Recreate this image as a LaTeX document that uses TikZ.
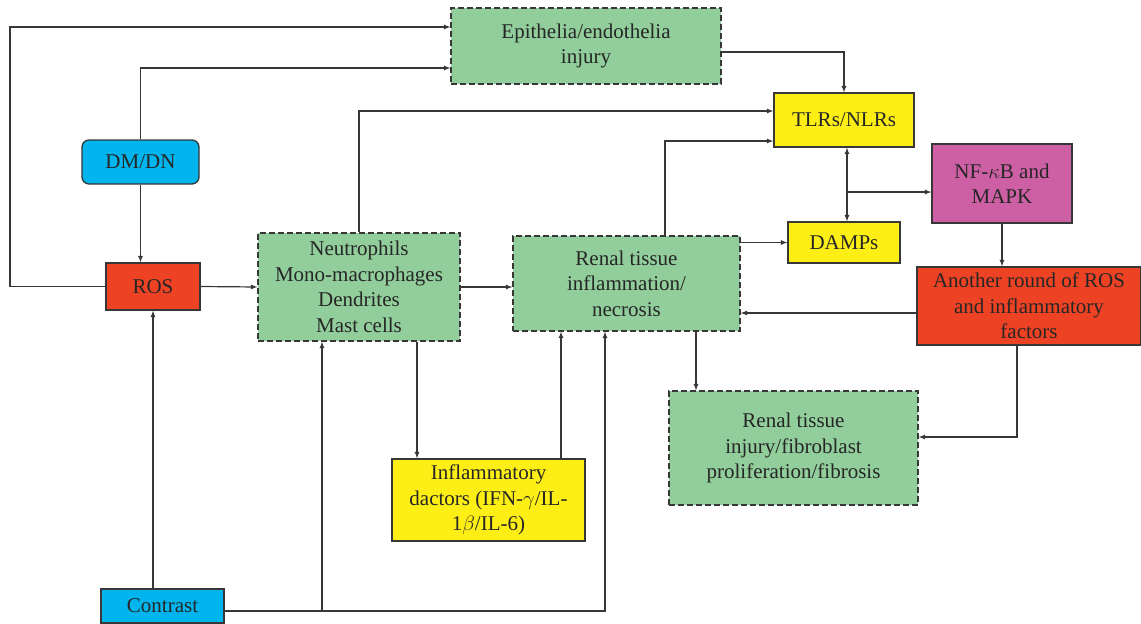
\documentclass[tikz,border=0pt]{standalone}
\usepackage{fontspec}
\setmainfont{Liberation Serif}
\usepackage{tikz}
\usetikzlibrary{calc, arrows}
\definecolor{boxgreen}{RGB}{145,206,155}
\definecolor{boxyellow}{RGB}{253,239,22}
\definecolor{boxred}{RGB}{238,66,36}
\definecolor{boxblue}{RGB}{0,180,238}
\definecolor{boxpink}{RGB}{205,96,164}
\definecolor{edge}{RGB}{55,55,55}
\tikzstyle{arrow} = [line width=1.2pt,draw=edge,->,>=latex]

\begin{document}
\begin{tikzpicture}[
    x=1pt, y=-1pt,
    font=\fontsize{21}{25.5}\selectfont,
    box/.style={draw=edge,line width=1.3pt,align=center,inner sep=0pt,text=black!85},
    cellbox/.style={box,fill=boxgreen,dashed,dash pattern=on 6pt off 3pt},
    factorbox/.style={box,fill=boxyellow},
    rosbox/.style={box,fill=boxred},
    sourcebox/.style={box,fill=boxblue},
  ]
  \useasboundingbox (0,0) rectangle (1141,624);

  % boxes
  \node[cellbox, minimum width=270pt, minimum height=76pt] (epi) at (586,46) {Epithelia/endothelia\\injury};
  \node[factorbox, minimum width=140pt, minimum height=54pt] (tlr) at (844,120) {TLRs/NLRs};
  \node[sourcebox, rounded corners=7pt, minimum width=117pt, minimum height=44pt] (dm) at (140.5,162) {DM/DN};
  \node[rosbox, minimum width=94pt, minimum height=47pt] (ros) at (153,286.5) {ROS};
  \node[cellbox, minimum width=202pt, minimum height=108pt] (neu) at (359,287) {Neutrophils\\Mono-macrophages\\Dendrites\\Mast cells};
  \node[cellbox, minimum width=227pt, minimum height=95pt] (ren) at (626.5,283.5) {Renal tissue\\inflammation/\\necrosis};
  \node[factorbox, minimum width=112pt, minimum height=41pt] (damp) at (844,242.5) {DAMPs};
  \node[box, fill=boxpink, minimum width=140pt, minimum height=79pt] (nfk) at (1002,183.5) {NF-$\kappa$B and\\MAPK};
  \node[rosbox, minimum width=224pt, minimum height=78pt] (ano) at (1029,306) {Another round of ROS\\and inflammatory\\factors};
  \node[cellbox, minimum width=249pt, minimum height=114pt] (inj) at (793.5,448) {Renal tissue\\injury/fibroblast\\proliferation/fibrosis};
  \node[factorbox, minimum width=193pt, minimum height=82pt] (inf) at (488.5,500) {Inflammatory\\dactors (IFN-$\gamma$/IL-\\1$\beta$/IL-6)};
  \node[sourcebox, minimum width=123pt, minimum height=34pt] (con) at (162.5,606) {Contrast};

  % connectors
  \draw[arrow] (ros.west) -- (10,286.5) |- ([yshift=19pt]epi.west);
  \draw[arrow] (dm.north) |- ([yshift=-22pt]epi.west);
  \draw[arrow] (dm.south) -- (dm.south |- ros.north);
  \draw[arrow] (ros.east) -- (neu.west);
  \draw[arrow] (neu.north) |- ([yshift=9pt]tlr.west);
  \draw[arrow] ([yshift=-6pt]epi.east) -| (tlr.north);
  \draw[arrow] ([xshift=38.5pt]ren.north) |- ([yshift=-21pt]tlr.west);
  \draw[arrow] (neu.east) -- (neu.east -| ren.west);
  \draw[arrow] (ren.east |- damp.west) -- (damp.west);
  \draw[arrow,<->] ([xshift=3pt]tlr.south) -- ([xshift=3pt]damp.north);
  \coordinate (split) at (847,192);
  \draw[arrow] (split) -- (split -| nfk.west);
  \draw[arrow] (nfk.south) -- (nfk.south |- ano.north);
  \draw[arrow] ([yshift=-7pt]ano.west) -- ([yshift=-7pt]ano.west -| ren.east);
  \draw[arrow] ([xshift=-12pt]ano.south) |- ([yshift=11pt]inj.east);
  \coordinate (injin) at ([xshift=-97.5pt]inj.north);
  \draw[arrow] (ren.south -| injin) -- (injin);
  \coordinate (infin) at ([xshift=-71.5pt]inf.north);
  \draw[arrow] (neu.south -| infin) -- (infin);
  \coordinate (infout) at ([xshift=72.5pt]inf.north);
  \draw[arrow] (infout) -- (infout |- ren.south);
  \draw[arrow] (ros.south |- con.north) -- (ros.south);
  \draw[arrow] ([yshift=-5pt]con.east) -| ([xshift=-21.5pt]ren.south);
  \coordinate (fork) at (322,611);
  \draw[arrow] (fork) -- (fork |- neu.south);
\end{tikzpicture}
\end{document}
